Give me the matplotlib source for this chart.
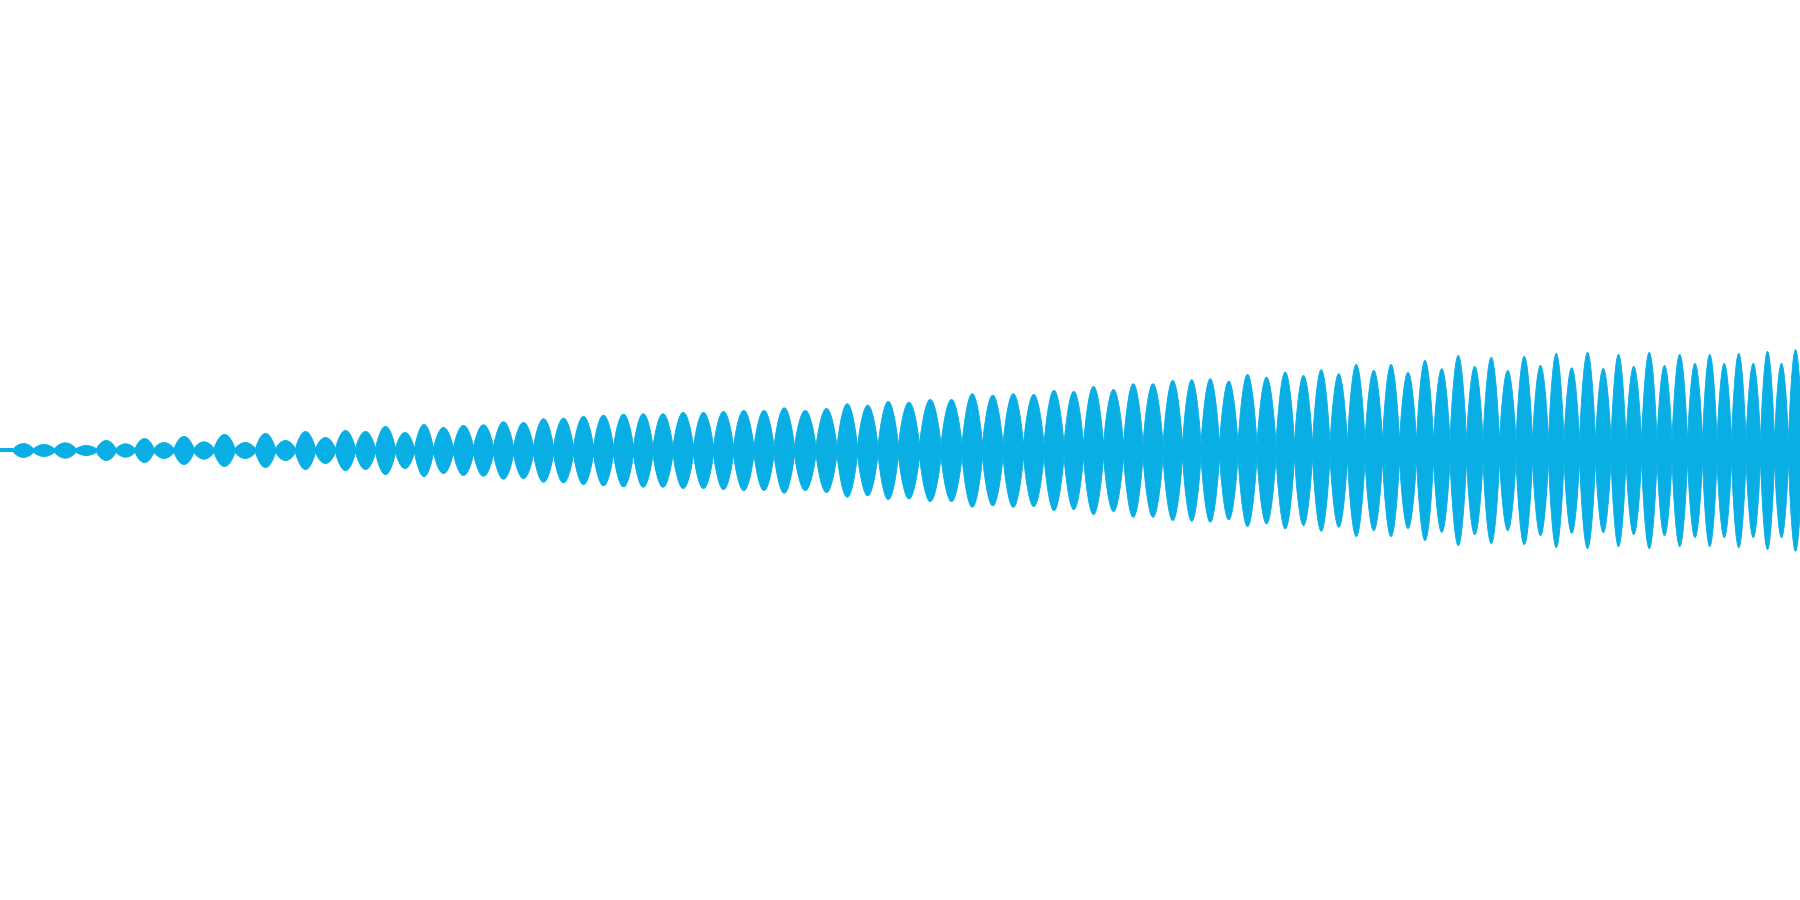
import numpy as np
import matplotlib
matplotlib.use("Agg")
import matplotlib.pyplot as plt

# lobe centres (time units) and peak amplitudes of the waveform envelope
lobe_time = [23, 43, 65, 86, 106, 125, 144, 163, 184, 203, 224, 245, 265, 285, 305, 325,
             345, 365, 385, 405, 423, 443, 463, 483, 503, 523, 543, 563, 583, 603, 623, 643,
             662, 683, 703, 723, 743, 764, 783, 805, 826, 847, 867, 888, 908, 930, 951, 972,
             992, 1013, 1033, 1054, 1073, 1093, 1113, 1133, 1152, 1173, 1191, 1210, 1228, 1247,
             1266, 1285, 1303, 1321, 1338, 1356, 1373, 1391, 1407, 1425, 1441, 1458, 1474, 1491,
             1507, 1524, 1540, 1556, 1571, 1587, 1603, 1618, 1633, 1649, 1664, 1679, 1695, 1709,
             1724, 1738, 1753, 1767, 1781, 1795]
lobe_peak = [7, 6, 7.7, 5, 10, 6.7, 12, 8, 14, 8.7, 16, 8, 17, 10, 19, 13,
             20, 19, 24, 18, 26, 23, 25, 25.7, 28.7, 28, 31.7, 32.3, 34, 35.3, 36.3, 36.7,
             36.7, 38, 38, 39, 40, 40, 42.7, 40, 42, 46.7, 45.3, 49, 48.3, 51, 51, 56.7,
             55.3, 56.7, 56, 60, 59, 64, 61, 66.7, 66.7, 70, 70.7, 71.7, 69.3, 76,
             73.3, 78.3, 75, 80.7, 76.7, 86, 80, 86, 78, 90, 81.7, 95, 84, 93,
             80, 94, 85, 97, 82.7, 98, 82, 96, 84, 98, 85, 96, 87, 96,
             87, 97, 87, 99, 87, 100.7]
# amplitude left between lobes
lobe_floor = [1.5] * 22 + [3] * 22 + [5] * 23 + [8] * 29
lead_in = (0, 13, 2.3)  # start, end, amplitude of the flat stretch before the first lobe

colour = "#08aee4"

fig = plt.figure(figsize=(18, 9), dpi=100)
ax = fig.add_axes([0, 0, 1, 1])

t = np.array(lobe_time, dtype=float)
edges = np.concatenate([[t[0] - (t[1] - t[0]) / 2], (t[:-1] + t[1:]) / 2, [t[-1] + (t[-1] - t[-2]) / 2]])

ax.fill_between([lead_in[0], lead_in[1]], -lead_in[2], lead_in[2], color=colour, linewidth=0)
for i in range(len(t)):
    xs = np.linspace(edges[i], edges[i + 1], 60)
    u = (xs - edges[i]) / (edges[i + 1] - edges[i])
    a = lobe_floor[i] + (lobe_peak[i] - lobe_floor[i]) * np.sin(np.pi * u) ** 0.8
    ax.fill_between(xs, -a, a, color=colour, linewidth=0.6, edgecolor=colour)

ax.set_xlim(0, 1800)
ax.set_ylim(-450, 450)
ax.axis("off")
fig.savefig("out.png", dpi=100, facecolor="white")
